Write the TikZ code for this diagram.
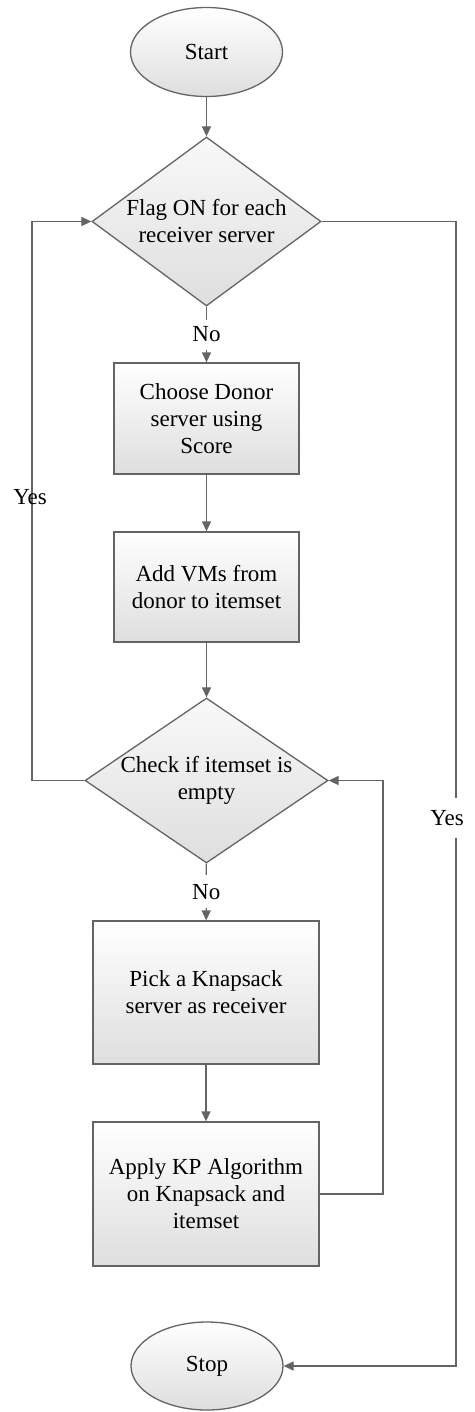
\documentclass[tikz,border=0pt]{standalone}
\usepackage{fontspec}
\setmainfont{Liberation Serif}
\usetikzlibrary{shapes.geometric,arrows.meta}
\definecolor{edge}{RGB}{100,100,100}
\definecolor{shadebot}{RGB}{222,222,222}
\tikzset{
  base/.style={draw=edge, line width=1.3pt, top color=white, bottom color=shadebot,
    font=\fontsize{23}{27}\selectfont, align=center, inner sep=0pt},
  terminal/.style={base, ellipse, minimum width=152pt, minimum height=89pt},
  decision/.style={base, diamond, top color=white!95!gray, bottom color=shadebot},
  process/.style={base, rectangle},
  arr/.style={draw=edge, line width=1.3pt, -{Triangle[length=10pt,width=9pt]}},
  lbl/.style={font=\fontsize{23}{27}\selectfont, inner sep=2pt},
  cut/.style={lbl, fill=white}
}
\begin{document}
\begin{tikzpicture}[x=1pt,y=-1pt]
\useasboundingbox[fill=white] (0,0) rectangle (474,1412);

% nodes
\node[terminal] (start) at (206.5,52) {Start};
\node[decision, minimum width=229pt, minimum height=169pt,
      label={[lbl, align=center]center:Flag ON for each\\receiver server}] (d1) at (206.5,221.5) {};
\node[process, minimum width=185pt, minimum height=111pt] (b2) at (206.5,418.5)
  {Choose Donor\\server using\\Score};
\node[process, minimum width=185pt, minimum height=110pt] (b3) at (206.5,587)
  {Add VMs from\\donor to itemset};
\node[decision, minimum width=243pt, minimum height=165pt,
      label={[lbl, align=center]center:Check if itemset is\\empty}] (d2) at (206.5,780.5) {};
\node[process, minimum width=226pt, minimum height=143pt] (b4) at (206,992.5)
  {Pick a Knapsack\\server as receiver};
\node[process, minimum width=226pt, minimum height=144pt] (b5) at (206,1194)
  {Apply KP Algorithm\\on Knapsack and\\itemset};
\node[terminal, minimum height=88pt] (stop) at (207,1366) {Stop};

% routing columns
\coordinate (lx) at (32,0);
\coordinate (rx) at (383,0);
\coordinate (yx) at (456,0);

% straight flow
\draw[arr] (start) -- (d1);
\draw[arr] (d1) -- (b2) node[cut, pos=0.5, minimum height=30pt] {No};
\draw[arr] (b2) -- (b3);
\draw[arr] (b3) -- (d2);
\draw[arr] (d2) -- (b4) node[cut, pos=0.5, minimum height=33pt] {No};
\draw[arr] (b4) -- (b5);

% loop back from the knapsack step to the itemset check
\draw[arr] (b5.east) -- (b5.east -| rx) -- (d2.east -| rx) -- (d2.east);

% itemset empty: back to the flag check
\draw[arr] (d2.west) -- (d2.west -| lx) -- (d1.west -| lx) -- (d1.west);
\node[lbl] (yesl) at (30,497) {Yes};

% all flags on: stop
\draw[arr] (d1.east) -- (d1.east -| yx) -- (stop.east -| yx) -- (stop.east);
\node[cut, minimum height=40pt] (yesr) at (447,818) {Yes};
\end{tikzpicture}
\end{document}
